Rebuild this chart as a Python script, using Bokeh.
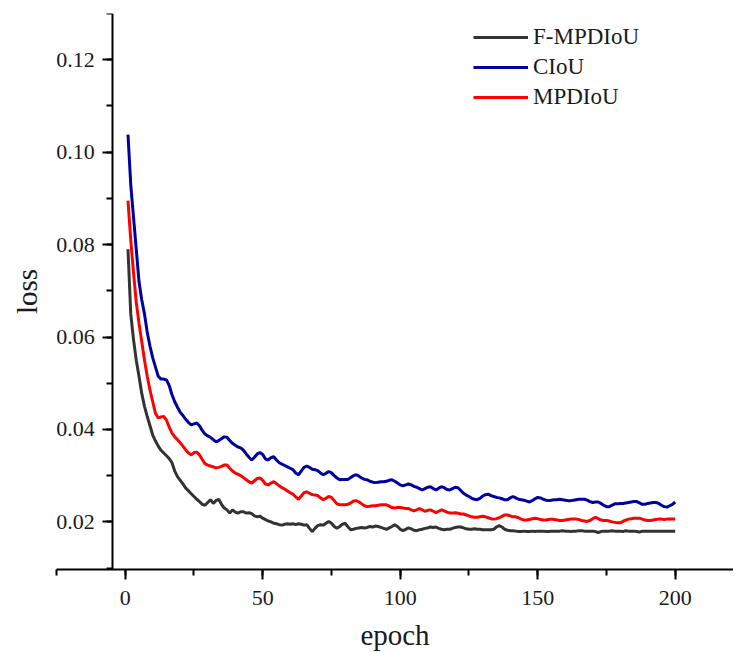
from bokeh.plotting import figure
from bokeh.models import (Range1d, LinearAxis, SingleIntervalTicker, NumeralTickFormatter, FixedTicker)
from bokeh.embed import file_html
from bokeh.resources import INLINE

epochs = list(range(1, 201))

f_mpdiou = [
    0.0790, 0.0650, 0.0595, 0.0550, 0.0515, 0.0478, 0.0450, 0.0428, 0.0408, 0.0388,
    0.0375, 0.0364, 0.0355, 0.0349, 0.0343, 0.0337, 0.0328, 0.0310, 0.0298, 0.0290,
    0.0282, 0.0273, 0.0267, 0.0261, 0.0255, 0.0249, 0.0244, 0.0238, 0.0236, 0.0242,
    0.0248, 0.0240, 0.0246, 0.0249, 0.0238, 0.0230, 0.0226, 0.0219, 0.0226, 0.0221,
    0.0219, 0.0222, 0.0222, 0.0219, 0.0220, 0.0218, 0.0213, 0.0211, 0.0212, 0.0208,
    0.0205, 0.0202, 0.0200, 0.0197, 0.0196, 0.0194, 0.0193, 0.0195, 0.0196, 0.0195,
    0.0196, 0.0194, 0.0196, 0.0195, 0.0193, 0.0194, 0.0186, 0.0179, 0.0186, 0.0192,
    0.0194, 0.0193, 0.0197, 0.0201, 0.0197, 0.0190, 0.0186, 0.0190, 0.0195, 0.0197,
    0.0189, 0.0183, 0.0184, 0.0186, 0.0187, 0.0188, 0.0187, 0.0188, 0.0190, 0.0189,
    0.0191, 0.0190, 0.0188, 0.0186, 0.0184, 0.0187, 0.0190, 0.0194, 0.0190, 0.0184,
    0.0181, 0.0184, 0.0187, 0.0185, 0.0182, 0.0181, 0.0183, 0.0184, 0.0186, 0.0187,
    0.0189, 0.0188, 0.0189, 0.0186, 0.0184, 0.0183, 0.0184, 0.0184, 0.0186, 0.0188,
    0.0189, 0.0189, 0.0187, 0.0185, 0.0184, 0.0184, 0.0185, 0.0184, 0.0184, 0.0183,
    0.0183, 0.0183, 0.0183, 0.0184, 0.0189, 0.0192, 0.0189, 0.0184, 0.0182, 0.0181,
    0.0181, 0.0180, 0.0179, 0.0179, 0.0180, 0.0179, 0.0179, 0.0180, 0.0179, 0.0180,
    0.0180, 0.0180, 0.0179, 0.0179, 0.0180, 0.0180, 0.0180, 0.0180, 0.0181, 0.0180,
    0.0180, 0.0179, 0.0180, 0.0180, 0.0181, 0.0181, 0.0180, 0.0180, 0.0180, 0.0180,
    0.0179, 0.0177, 0.0179, 0.0180, 0.0180, 0.0180, 0.0181, 0.0180, 0.0180, 0.0180,
    0.0179, 0.0181, 0.0180, 0.0180, 0.0180, 0.0179, 0.0178, 0.0180, 0.0180, 0.0180,
    0.0180, 0.0180, 0.0180, 0.0180, 0.0180, 0.0180, 0.0180, 0.0180, 0.0180, 0.0180,
]

ciou = [
    0.1038, 0.0930, 0.0860, 0.0790, 0.0720, 0.0680, 0.0650, 0.0610, 0.0580, 0.0555,
    0.0535, 0.0515, 0.0509, 0.0509, 0.0507, 0.0495, 0.0475, 0.0460, 0.0448, 0.0437,
    0.0430, 0.0422, 0.0415, 0.0410, 0.0412, 0.0414, 0.0408, 0.0398, 0.0390, 0.0386,
    0.0383, 0.0378, 0.0373, 0.0376, 0.0380, 0.0384, 0.0383, 0.0376, 0.0370, 0.0366,
    0.0362, 0.0360, 0.0355, 0.0347, 0.0340, 0.0334, 0.0340, 0.0347, 0.0350, 0.0346,
    0.0336, 0.0334, 0.0339, 0.0341, 0.0334, 0.0328, 0.0325, 0.0322, 0.0319, 0.0316,
    0.0313, 0.0306, 0.0302, 0.0310, 0.0318, 0.0321, 0.0318, 0.0314, 0.0313, 0.0311,
    0.0306, 0.0302, 0.0305, 0.0309, 0.0306, 0.0300, 0.0295, 0.0291, 0.0292, 0.0292,
    0.0292, 0.0296, 0.0300, 0.0302, 0.0299, 0.0295, 0.0292, 0.0291, 0.0288, 0.0286,
    0.0285, 0.0286, 0.0287, 0.0287, 0.0288, 0.0290, 0.0291, 0.0288, 0.0284, 0.0280,
    0.0278, 0.0280, 0.0282, 0.0280, 0.0277, 0.0275, 0.0272, 0.0269, 0.0272, 0.0275,
    0.0276, 0.0272, 0.0269, 0.0273, 0.0276, 0.0274, 0.0270, 0.0269, 0.0272, 0.0275,
    0.0274, 0.0268, 0.0262, 0.0258, 0.0255, 0.0251, 0.0249, 0.0248, 0.0251, 0.0256,
    0.0259, 0.0260, 0.0257, 0.0255, 0.0253, 0.0252, 0.0250, 0.0248, 0.0248, 0.0252,
    0.0255, 0.0252, 0.0249, 0.0248, 0.0247, 0.0245, 0.0243, 0.0246, 0.0250, 0.0253,
    0.0252, 0.0249, 0.0247, 0.0246, 0.0247, 0.0248, 0.0248, 0.0249, 0.0248, 0.0247,
    0.0246, 0.0246, 0.0247, 0.0248, 0.0249, 0.0249, 0.0249, 0.0247, 0.0244, 0.0242,
    0.0243, 0.0243, 0.0240, 0.0236, 0.0233, 0.0233, 0.0236, 0.0239, 0.0239, 0.0240,
    0.0240, 0.0241, 0.0242, 0.0243, 0.0244, 0.0244, 0.0241, 0.0238, 0.0238, 0.0240,
    0.0241, 0.0242, 0.0242, 0.0240, 0.0236, 0.0233, 0.0232, 0.0235, 0.0238, 0.0243,
]

mpdiou = [
    0.0895, 0.0810, 0.0740, 0.0675, 0.0630, 0.0590, 0.0550, 0.0515, 0.0485, 0.0460,
    0.0435, 0.0425, 0.0427, 0.0428, 0.0420, 0.0405, 0.0392, 0.0384, 0.0378, 0.0371,
    0.0364, 0.0356, 0.0349, 0.0345, 0.0350, 0.0351, 0.0345, 0.0335, 0.0326, 0.0323,
    0.0321, 0.0319, 0.0317, 0.0318, 0.0320, 0.0323, 0.0323, 0.0316, 0.0310, 0.0306,
    0.0303, 0.0300, 0.0296, 0.0291, 0.0287, 0.0284, 0.0289, 0.0294, 0.0295, 0.0290,
    0.0282, 0.0280, 0.0284, 0.0287, 0.0283, 0.0278, 0.0274, 0.0271, 0.0267, 0.0263,
    0.0260, 0.0254, 0.0249, 0.0256, 0.0263, 0.0265, 0.0262, 0.0259, 0.0258, 0.0257,
    0.0252, 0.0248, 0.0251, 0.0255, 0.0253, 0.0246, 0.0239, 0.0237, 0.0237, 0.0237,
    0.0238, 0.0241, 0.0245, 0.0246, 0.0243, 0.0239, 0.0235, 0.0233, 0.0234, 0.0235,
    0.0235, 0.0236, 0.0237, 0.0237, 0.0237, 0.0234, 0.0231, 0.0230, 0.0231, 0.0231,
    0.0230, 0.0229, 0.0229, 0.0226, 0.0224, 0.0226, 0.0229, 0.0226, 0.0223, 0.0225,
    0.0226, 0.0223, 0.0220, 0.0223, 0.0226, 0.0224, 0.0221, 0.0219, 0.0219, 0.0220,
    0.0219, 0.0217, 0.0217, 0.0215, 0.0213, 0.0211, 0.0210, 0.0210, 0.0211, 0.0212,
    0.0211, 0.0209, 0.0207, 0.0206, 0.0207, 0.0209, 0.0212, 0.0215, 0.0215, 0.0213,
    0.0211, 0.0211, 0.0209, 0.0206, 0.0204, 0.0204, 0.0205, 0.0207, 0.0208, 0.0207,
    0.0205, 0.0204, 0.0204, 0.0205, 0.0206, 0.0205, 0.0204, 0.0203, 0.0203, 0.0204,
    0.0205, 0.0206, 0.0206, 0.0206, 0.0205, 0.0203, 0.0202, 0.0201, 0.0203, 0.0207,
    0.0210, 0.0207, 0.0204, 0.0203, 0.0203, 0.0202, 0.0200, 0.0199, 0.0198, 0.0198,
    0.0201, 0.0204, 0.0206, 0.0207, 0.0208, 0.0208, 0.0208, 0.0206, 0.0204, 0.0203,
    0.0203, 0.0204, 0.0205, 0.0206, 0.0206, 0.0205, 0.0206, 0.0206, 0.0206, 0.0206,
]

series_names = ["F-MPDIoU", "CIoU", "MPDIoU"]
series_values = [f_mpdiou, ciou, mpdiou]
series_colors = ["#333333", "#0000a0", "#ff0000"]

FONT = "Liberation Serif"
TXT = "#1a1a1a"

p = figure(width=733, height=653, output_backend="svg", toolbar_location=None,
           x_range=Range1d(-25, 221.2), y_range=Range1d(0.0097, 0.13),
           x_axis_type=None, y_axis_type=None,
           min_border_left=56, min_border_right=0, min_border_top=13, min_border_bottom=83)
p.outline_line_color = None
p.background_fill_color = "white"
p.border_fill_color = "white"

xaxis = LinearAxis(ticker=SingleIntervalTicker(interval=50, num_minor_ticks=2),
                   axis_label="epoch")
yaxis = LinearAxis(ticker=SingleIntervalTicker(interval=0.02, num_minor_ticks=2),
                   formatter=NumeralTickFormatter(format="0.00"),
                   fixed_location=-4.5)
for ax in (xaxis, yaxis):
    ax.axis_line_width = 2
    ax.axis_line_color = "black"
    ax.major_tick_line_width = 2
    ax.minor_tick_line_width = 2
    ax.major_tick_line_color = "black"
    ax.minor_tick_line_color = "black"
    ax.major_tick_in = 0
    ax.major_tick_out = 10
    ax.minor_tick_in = 0
    ax.minor_tick_out = 6
    ax.major_label_text_font = FONT
    ax.major_label_text_font_size = "22px"
    ax.major_label_text_color = TXT
    ax.axis_label_text_font = FONT
    ax.axis_label_text_font_size = "29px"
    ax.axis_label_text_font_style = "normal"
    ax.axis_label_text_color = TXT
xaxis.major_label_standoff = 11
xaxis.axis_label_standoff = 11
yaxis.major_label_standoff = 8
p.add_layout(xaxis, "below")
p.add_layout(yaxis, "left")

# axis carrying only the y title, placed at the left side of the frame
ytitle = LinearAxis(ticker=FixedTicker(ticks=[]), axis_label="loss")
ytitle.axis_line_color = None
ytitle.major_tick_line_color = None
ytitle.minor_tick_line_color = None
ytitle.major_tick_out = 0
ytitle.minor_tick_out = 0
ytitle.major_label_standoff = 0
ytitle.axis_label_standoff = 14
ytitle.axis_label_text_font = FONT
ytitle.axis_label_text_font_size = "29px"
ytitle.axis_label_text_font_style = "normal"
ytitle.axis_label_text_color = TXT
p.add_layout(ytitle, "left")

for name, vals, col in zip(series_names, series_values, series_colors):
    p.line(epochs, vals, line_color=col, line_width=3, legend_label=name)

lg = p.legend[0]
lg.location = (417, 457)
lg.border_line_color = None
lg.background_fill_alpha = 0
lg.glyph_width = 55
lg.glyph_height = 30
lg.spacing = 0
lg.padding = 0
lg.margin = 0
lg.label_standoff = 5
lg.label_text_font = FONT
lg.label_text_font_size = "23px"
lg.label_text_color = TXT

open("out.html", "w").write(file_html(p, INLINE))
